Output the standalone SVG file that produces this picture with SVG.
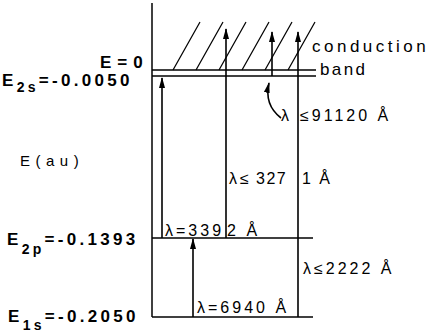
<svg xmlns="http://www.w3.org/2000/svg" width="432" height="336" viewBox="0 0 432 336">
<style>
.ln{stroke:#000;stroke-width:1.5;fill:none}
.hl{stroke:#000;stroke-width:1.2;fill:none}
.ar{stroke:#000;stroke-width:1.6;fill:none;marker-end:url(#ah)}
.b{font-family:"Liberation Sans",Arial,sans-serif;font-weight:bold;font-size:17px;fill:#000;letter-spacing:3.3px}
.sub{font-size:14px}
.r{font-family:"Liberation Sans",Arial,sans-serif;font-size:16px;fill:#000;letter-spacing:3px}
</style>
<defs>
<marker id="ah" markerUnits="userSpaceOnUse" markerWidth="11" markerHeight="6" refX="10" refY="3" orient="auto">
<path d="M0,0 L11,3 L0,6 z" fill="#000"/>
</marker>
</defs>
<g id="hatch">
<line class="hl" x1="173" y1="70" x2="200" y2="22"/>
<line class="hl" x1="196" y1="70" x2="223" y2="22"/>
<line class="hl" x1="219" y1="70" x2="246" y2="22"/>
<line class="hl" x1="242" y1="70" x2="269" y2="22"/>
<line class="hl" x1="265" y1="70" x2="292" y2="22"/>
<line class="hl" x1="288" y1="70" x2="315" y2="22"/>
</g>
<g id="axis">
<line class="ln" x1="152" y1="3" x2="152" y2="317"/>
</g>
<g id="level-E0">
<line class="ln" x1="152" y1="70" x2="316" y2="70"/>
<text class="b" x="100" y="68" style="letter-spacing:6px">E=0</text>
</g>
<g id="level-E2s">
<line class="ln" x1="152" y1="76" x2="316" y2="76"/>
<text class="b" x="2" y="86">E<tspan class="sub" dy="6">2s</tspan><tspan dy="-6">=-0.0050</tspan></text>
</g>
<g id="level-E2p">
<line class="ln" x1="152" y1="238" x2="313" y2="238"/>
<text class="b" x="7" y="245">E<tspan class="sub" dy="9">2p</tspan><tspan dy="-9">=-0.1393</tspan></text>
</g>
<g id="level-E1s">
<line class="ln" x1="152" y1="317" x2="313" y2="317"/>
<text class="b" x="8" y="322">E<tspan class="sub" dy="8">1s</tspan><tspan dy="-8">=-0.2050</tspan></text>
</g>
<g id="axis-label">
<text class="r" x="20" y="166" style="font-size:15px;letter-spacing:5.5px">E(au)</text>
</g>
<g id="band-label">
<text class="r" x="312" y="52" style="font-size:17px;letter-spacing:3.5px">conduction</text>
<text class="r" x="320" y="75" style="font-size:17px;letter-spacing:2.4px">band</text>
</g>
<g id="connectors">
<line class="ar" x1="162" y1="238" x2="162" y2="78"/>
<line class="ar" x1="226" y1="238" x2="226" y2="29"/>
<line class="ar" x1="272" y1="76" x2="272" y2="32"/>
<line class="ar" x1="298" y1="317" x2="298" y2="32"/>
<line class="ar" x1="193" y1="317" x2="193" y2="239"/>
<path class="ar" d="M281,118 C272,111 265,100 269,83" stroke-width="2"/>
</g>
<g id="labels">
<text class="r" x="281" y="121">λ<tspan dx="8">≤91120 Å</tspan></text>
<text class="r" x="229" y="184" style="letter-spacing:3px">λ≤<tspan x="256" style="letter-spacing:1.5px">327</tspan><tspan x="302" style="letter-spacing:2px">1 Å</tspan></text>
<text class="r" x="165" y="236">λ=339<tspan dx="3">2 Å</tspan></text>
<text class="r" x="303" y="274">λ≤2222 Å</text>
<text class="r" x="197" y="313">λ=6940 Å</text>
</g>
</svg>
